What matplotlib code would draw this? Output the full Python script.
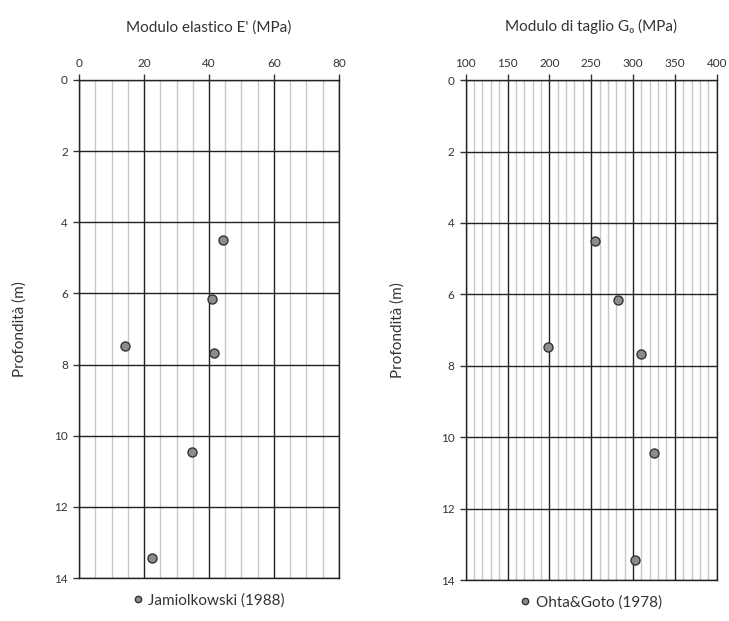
import numpy as np
import matplotlib.pyplot as plt
from matplotlib.ticker import MultipleLocator

plt.rcParams['font.family'] = ['Lato', 'DejaVu Sans']

# profondita' dei campioni (m)
prof = [4.5, 6.17, 7.47, 7.68, 10.45, 13.45]
# modulo elastico E' (MPa) - Jamiolkowski (1988)
modulo_E = [44.2, 40.8, 14.3, 41.6, 34.8, 22.5]
# modulo di taglio G0 (MPa) - Ohta&Goto (1978)
modulo_G0 = [255, 282, 198, 310, 325, 302]

fig = plt.figure(figsize=(7.29, 6.21), dpi=100)
ax1 = fig.add_axes([0.1084, 0.0692, 0.3566, 0.802])
ax2 = fig.add_axes([0.6388, 0.066, 0.3443, 0.805])


def stile_asse(ax, xmin, xmax, major, minor, titolo, lpad):
    ax.set_xlim(xmin, xmax)
    ax.set_ylim(14, 0)
    ax.xaxis.set_major_locator(MultipleLocator(major))
    ax.xaxis.set_minor_locator(MultipleLocator(minor))
    ax.yaxis.set_major_locator(MultipleLocator(2))
    ax.xaxis.tick_top()
    ax.tick_params(axis='both', which='major', labelsize=8.5, length=4,
                   width=1, colors='#333333', pad=4)
    ax.tick_params(axis='x', which='minor', length=0)
    ax.grid(True, which='minor', axis='x', color='#c8c8c8', linewidth=1.0)
    ax.grid(True, which='major', axis='both', color='#222222', linewidth=1.0)
    ax.set_axisbelow(True)
    for s in ax.spines.values():
        s.set_color('#222222')
        s.set_linewidth(1.0)
    ax.set_ylabel('Profondità (m)', fontsize=11, color='#333333', labelpad=lpad)
    ax.set_title(titolo, fontsize=11, color='#333333', pad=35)


stile_asse(ax1, 0, 80, 20, 5, "Modulo elastico E' (MPa)", 20)
stile_asse(ax2, 100, 400, 50, 10, "Modulo di taglio G₀ (MPa)", 26)

ax1.plot(modulo_E, prof, 'o', color='#8c8c8c', markeredgecolor='#333333',
         markersize=6.5, markeredgewidth=1.0, label='Jamiolkowski (1988)',
         clip_on=False, zorder=5)
ax2.plot(modulo_G0, prof, 'o', color='#8c8c8c', markeredgecolor='#333333',
         markersize=6.5, markeredgewidth=1.0, label='Ohta&Goto (1978)',
         clip_on=False, zorder=5)

for ax in (ax1, ax2):
    leg = ax.legend(loc='upper center', bbox_to_anchor=(0.5, -0.003),
                    frameon=False, fontsize=11, handlelength=0.6,
                    handletextpad=0.4, markerscale=0.7)
    for t in leg.get_texts():
        t.set_color('#333333')

fig.savefig('out.png', dpi=100)
